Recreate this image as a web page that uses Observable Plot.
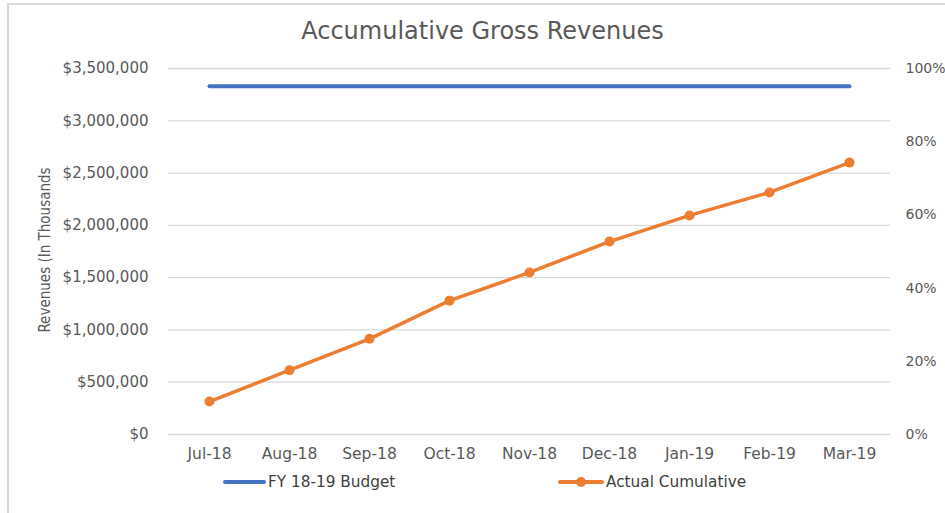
<!DOCTYPE html>
<html>
<head>
<meta charset="utf-8">
<script src="https://cdn.jsdelivr.net/npm/d3@7"></script>
<script src="https://cdn.jsdelivr.net/npm/@observablehq/plot@0.6"></script>
<style>
  html, body { margin: 0; padding: 0; background: #fff; }
  #wrap { position: relative; width: 945px; height: 513px; overflow: hidden; font-family: "DejaVu Sans", sans-serif; color: #595959; }
  #frame { position: absolute; left: 7px; top: 3px; width: 960px; height: 530px; border-left: 2px solid #d9d9d9; border-top: 2px solid #d9d9d9; box-sizing: border-box; }
  #title { position: absolute; left: 0; top: 17px; width: 965px; text-align: center; font-size: 24px; color: #595959; }
  #chart { position: absolute; left: 0; top: 50px; }
  .leg { position: absolute; top: 473px; font-size: 15.3px; display: flex; align-items: center; color: #404040; }
  .leg svg { margin-right: 2px; }
</style>
</head>
<body>
<div id="wrap">
  <div id="frame"></div>
  <div id="title">Accumulative Gross Revenues</div>
  <div id="chart"></div>
  <div class="leg" id="leg1" style="left:223px"></div>
  <div class="leg" id="leg2" style="left:558px"></div>
</div>
<script>
// ---- data ----
const months = ["Jul-18","Aug-18","Sep-18","Oct-18","Nov-18","Dec-18","Jan-19","Feb-19","Mar-19"];
const budget = [3330000,3330000,3330000,3330000,3330000,3330000,3330000,3330000,3330000];
const actual = [315000,615000,915000,1280000,1550000,1845000,2095000,2315000,2600000];
const leftTicks = [0,500000,1000000,1500000,2000000,2500000,3000000,3500000];
const pctTicks = [0,0.2,0.4,0.6,0.8,1.0];
const seriesNames = ["FY 18-19 Budget","Actual Cumulative"];
const colors = ["#4472C4","#ED7D31"];

const yMax = 3500000;
const budgetData = months.map((m,i)=>({month:m, value:budget[i]}));
const actualData = months.map((m,i)=>({month:m, value:actual[i]}));

const fmtUSD = d3.format("$,.0f");

const chart = Plot.plot({
  width: 945,
  height: 420,
  marginLeft: 168,
  marginRight: 55,
  marginTop: 18,
  marginBottom: 36,
  style: {fontFamily: "DejaVu Sans, sans-serif", color: "#595959", background: "transparent"},
  x: {type: "point", domain: months, padding: 0.5},
  y: {domain: [0, yMax]},
  marks: [
    Plot.gridY(leftTicks, {stroke: "#d9d9d9", strokeOpacity: 1, strokeWidth: 1.3}),
    Plot.axisY({ticks: leftTicks, tickFormat: fmtUSD, tickSize: 0, tickPadding: 20, fontSize: 15, label: null}),
    Plot.axisY({anchor: "right", ticks: pctTicks.map(p=>p*yMax), tickFormat: d => Math.round(d/yMax*100)+"%", tickSize: 0, tickPadding: 15, fontSize: 14, label: null}),
    Plot.axisX({tickSize: 0, tickPadding: 13, fontSize: 15.5, label: null}),
    Plot.line(budgetData, {x: "month", y: "value", stroke: colors[0], strokeWidth: 4, strokeLinecap: "round"}),
    Plot.line(actualData, {x: "month", y: "value", stroke: colors[1], strokeWidth: 3.5, strokeLinecap: "round"}),
    Plot.dot(actualData, {x: "month", y: "value", fill: colors[1], r: 5})
  ]
});
document.getElementById("chart").appendChild(chart);

// rotated y-axis title
const svg = d3.select(chart);
svg.append("text")
  .attr("transform", "translate(50,200) rotate(-90)")
  .attr("text-anchor", "middle")
  .attr("font-size", 15)
  .attr("font-family", "DejaVu Sans Condensed, DejaVu Sans, sans-serif")
  .attr("fill", "#595959")
  .text("Revenues (In Thousands");

// legend
function legendItem(id, name, color, marker) {
  const el = document.getElementById(id);
  const w = marker ? 46 : 43;
  const s = d3.create("svg").attr("width", w).attr("height", 16);
  s.append("line").attr("x1", 2).attr("x2", w-2).attr("y1", 8).attr("y2", 8)
    .attr("stroke", color).attr("stroke-width", 4).attr("stroke-linecap", "round");
  if (marker) s.append("circle").attr("cx", w/2).attr("cy", 8).attr("r", 5).attr("fill", color);
  el.appendChild(s.node());
  const t = document.createElement("span");
  t.textContent = name;
  el.appendChild(t);
}
legendItem("leg1", seriesNames[0], colors[0], false);
legendItem("leg2", seriesNames[1], colors[1], true);
</script>
</body>
</html>
